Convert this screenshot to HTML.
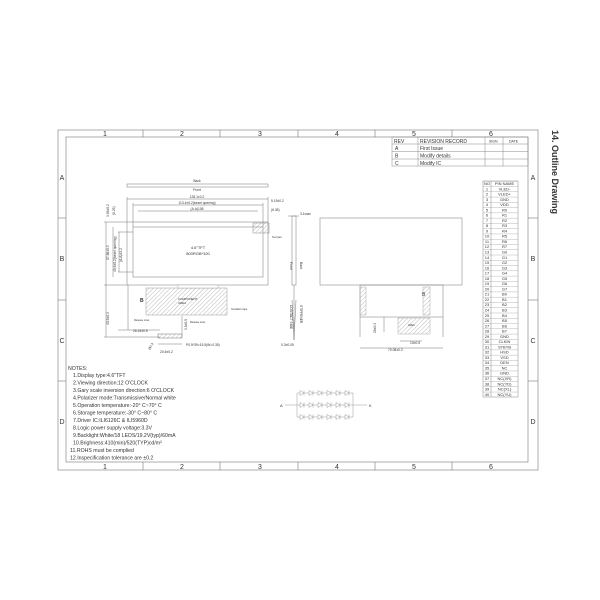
<!DOCTYPE html>
<html><head><meta charset="utf-8"><style>
body{margin:0;background:#fff}
svg{display:block}
text{font-family:"Liberation Sans",sans-serif;fill:#333}
.m{font-family:"Liberation Mono",monospace;font-size:5.2px;fill:#444}
</style></head><body>
<svg width="600" height="600" viewBox="0 0 600 600" xmlns="http://www.w3.org/2000/svg">
<defs>
<pattern id="h" width="3" height="3" patternUnits="userSpaceOnUse" patternTransform="rotate(45)"><line x1="0" y1="0" x2="0" y2="3" stroke="#aaa" stroke-width="0.8"/></pattern>
<pattern id="rows" x="483" y="181" width="35" height="5.27" patternUnits="userSpaceOnUse"><line x1="0" y1="0.2" x2="35" y2="0.2" stroke="#999" stroke-width="0.4"/></pattern>
<g id="d"><polygon points="0,-2.5 0,2.5 4,0" fill="#fff" stroke="#999" stroke-width="0.5"/><line x1="4" y1="-2.5" x2="4" y2="2.5" stroke="#999" stroke-width="0.5"/></g>
<g id="dr"><line x1="297" y1="0" x2="353" y2="0" stroke="#999" stroke-width="0.5"/><use href="#d" x="300"/><use href="#d" x="309"/><use href="#d" x="318"/><use href="#d" x="327"/><use href="#d" x="336"/><use href="#d" x="345"/></g>
</defs>
<g fill="none" stroke="#777" stroke-width="0.6">
<rect x="58" y="130" width="480" height="340"/>
<rect x="66" y="137" width="462" height="325"/>
<line x1="143" y1="130" x2="143" y2="137"/><line x1="220" y1="130" x2="220" y2="137"/><line x1="298" y1="130" x2="298" y2="137"/><line x1="375" y1="130" x2="375" y2="137"/><line x1="452" y1="130" x2="452" y2="137"/>
<line x1="143" y1="462" x2="143" y2="470"/><line x1="220" y1="462" x2="220" y2="470"/><line x1="298" y1="462" x2="298" y2="470"/><line x1="375" y1="462" x2="375" y2="470"/><line x1="452" y1="462" x2="452" y2="470"/>
<line x1="58" y1="218" x2="66" y2="218"/><line x1="58" y1="300" x2="66" y2="300"/><line x1="58" y1="381" x2="66" y2="381"/>
<line x1="528" y1="218" x2="538" y2="218"/><line x1="528" y1="300" x2="538" y2="300"/><line x1="528" y1="381" x2="538" y2="381"/>
</g>
<g font-size="7" text-anchor="middle">
<text x="105" y="136">1</text><text x="182" y="136">2</text><text x="260" y="136">3</text><text x="337" y="136">4</text><text x="414" y="136">5</text><text x="491" y="136">6</text>
<text x="105" y="469">1</text><text x="182" y="469">2</text><text x="260" y="469">3</text><text x="337" y="469">4</text><text x="414" y="469">5</text><text x="491" y="469">6</text>
<text x="62" y="180">A</text><text x="62" y="261">B</text><text x="62" y="343">C</text><text x="62" y="424">D</text>
<text x="533" y="180">A</text><text x="533" y="261">B</text><text x="533" y="343">C</text><text x="533" y="424">D</text>
</g>
<text transform="translate(552,130) rotate(90)" font-size="9" font-weight="bold" fill="#222">14. Outline Drawing</text>
<g fill="none" stroke="#888" stroke-width="0.5">
<rect x="392" y="137" width="136" height="29"/>
<line x1="392" y1="144" x2="528" y2="144"/><line x1="392" y1="151.5" x2="528" y2="151.5"/><line x1="392" y1="159" x2="528" y2="159"/>
<line x1="418" y1="137" x2="418" y2="166"/><line x1="485" y1="137" x2="485" y2="166"/><line x1="503" y1="137" x2="503" y2="166"/>
</g>
<g font-size="5">
<text x="394" y="143">REV</text><text x="420" y="143">REVISION RECORD</text><text x="489" y="142.5" font-size="3.5">SIGN</text><text x="509" y="142.5" font-size="3.5">DATE</text>
<text x="395" y="150">A</text><text x="420" y="150">First Issue</text>
<text x="395" y="157.5">B</text><text x="420" y="157.5">Modify details</text>
<text x="395" y="165">C</text><text x="420" y="165">Modify IC</text>
</g>
<!-- pin table -->
<rect x="483" y="181" width="35" height="216" fill="url(#rows)" stroke="#888" stroke-width="0.5"/>
<line x1="491" y1="181" x2="491" y2="397" stroke="#888" stroke-width="0.5"/>
<g font-size="4" text-anchor="middle">
<text x="487" y="185">NO</text><text x="504.5" y="185">PIN NAME</text>
<text x="487" y="190.3">1</text><text x="504.5" y="190.3">VLED-</text>
<text x="487" y="195.5">2</text><text x="504.5" y="195.5">VLED+</text>
<text x="487" y="200.8">3</text><text x="504.5" y="200.8">GND</text>
<text x="487" y="206.1">4</text><text x="504.5" y="206.1">VDD</text>
<text x="487" y="211.4">5</text><text x="504.5" y="211.4">R0</text>
<text x="487" y="216.6">6</text><text x="504.5" y="216.6">R1</text>
<text x="487" y="221.9">7</text><text x="504.5" y="221.9">R2</text>
<text x="487" y="227.2">8</text><text x="504.5" y="227.2">R3</text>
<text x="487" y="232.4">9</text><text x="504.5" y="232.4">R4</text>
<text x="487" y="237.7">10</text><text x="504.5" y="237.7">R5</text>
<text x="487" y="243">11</text><text x="504.5" y="243">R6</text>
<text x="487" y="248.2">12</text><text x="504.5" y="248.2">R7</text>
<text x="487" y="253.5">13</text><text x="504.5" y="253.5">G0</text>
<text x="487" y="258.8">14</text><text x="504.5" y="258.8">G1</text>
<text x="487" y="264.1">15</text><text x="504.5" y="264.1">G2</text>
<text x="487" y="269.3">16</text><text x="504.5" y="269.3">G3</text>
<text x="487" y="274.6">17</text><text x="504.5" y="274.6">G4</text>
<text x="487" y="279.9">18</text><text x="504.5" y="279.9">G5</text>
<text x="487" y="285.1">19</text><text x="504.5" y="285.1">G6</text>
<text x="487" y="290.4">20</text><text x="504.5" y="290.4">G7</text>
<text x="487" y="295.7">21</text><text x="504.5" y="295.7">B0</text>
<text x="487" y="300.9">22</text><text x="504.5" y="300.9">B1</text>
<text x="487" y="306.2">23</text><text x="504.5" y="306.2">B2</text>
<text x="487" y="311.5">24</text><text x="504.5" y="311.5">B3</text>
<text x="487" y="316.8">25</text><text x="504.5" y="316.8">B4</text>
<text x="487" y="322">26</text><text x="504.5" y="322">B5</text>
<text x="487" y="327.3">27</text><text x="504.5" y="327.3">B6</text>
<text x="487" y="332.6">28</text><text x="504.5" y="332.6">B7</text>
<text x="487" y="337.8">29</text><text x="504.5" y="337.8">GND</text>
<text x="487" y="343.1">30</text><text x="504.5" y="343.1">CLKIN</text>
<text x="487" y="348.4">31</text><text x="504.5" y="348.4">STBYB</text>
<text x="487" y="353.6">32</text><text x="504.5" y="353.6">HSD</text>
<text x="487" y="358.9">33</text><text x="504.5" y="358.9">VSD</text>
<text x="487" y="364.2">34</text><text x="504.5" y="364.2">DEN</text>
<text x="487" y="369.5">35</text><text x="504.5" y="369.5">NC</text>
<text x="487" y="374.7">36</text><text x="504.5" y="374.7">GND</text>
<text x="487" y="380">37</text><text x="504.5" y="380">NC(XR)</text>
<text x="487" y="385.3">38</text><text x="504.5" y="385.3">NC(YD)</text>
<text x="487" y="390.5">39</text><text x="504.5" y="390.5">NC(XL)</text>
<text x="487" y="395.8">40</text><text x="504.5" y="395.8">NC(YU)</text>
</g>
<!-- front view -->
<g fill="none" stroke="#777" stroke-width="0.5">
<rect x="127" y="184" width="141" height="3"/>
<rect x="127" y="222" width="141" height="63"/>
<rect x="133" y="227" width="130" height="50"/>
<line x1="127" y1="197" x2="127" y2="222"/><line x1="268" y1="197" x2="268" y2="222"/>
<line x1="127" y1="199" x2="268" y2="199"/><line x1="133" y1="205" x2="263" y2="205"/><line x1="138" y1="211" x2="258" y2="211"/>
<line x1="133" y1="203" x2="133" y2="227"/><line x1="263" y1="203" x2="263" y2="227"/>
<line x1="104" y1="222" x2="127" y2="222"/><line x1="104" y1="285" x2="127" y2="285"/>
<line x1="106" y1="222" x2="106" y2="337"/><line x1="104" y1="337" x2="160" y2="337"/>
<line x1="113" y1="227" x2="113" y2="277"/><line x1="119" y1="232" x2="119" y2="272"/>
<line x1="118" y1="232" x2="133" y2="232"/><line x1="118" y1="272" x2="133" y2="272"/>
<line x1="128" y1="285" x2="128" y2="330"/><line x1="118" y1="330" x2="160" y2="330"/>
<line x1="182" y1="316" x2="182" y2="336"/>
<line x1="158" y1="344" x2="182" y2="344"/>
</g>
<rect x="253" y="223" width="16" height="10" fill="url(#h)" stroke="#888" stroke-width="0.5"/>
<rect x="146" y="288" width="81" height="27" fill="url(#h)" stroke="#999" stroke-width="0.5"/>
<rect x="178" y="285" width="40" height="3" fill="#fff" stroke="#999" stroke-width="0.4"/>
<rect x="158" y="334" width="24" height="4" fill="url(#h)" stroke="#777" stroke-width="0.5"/>
<g font-size="3.3">
<text x="197" y="182" text-anchor="middle">Back</text><text x="197" y="191" text-anchor="middle">Front</text>
<text x="197" y="198" text-anchor="middle">128.1±0.2</text>
<text x="197" y="204" text-anchor="middle">113.4±0.2(bezel opening)</text>
<text x="197" y="210" text-anchor="middle">(A.A)108</text>
<text x="271" y="202">5.15±0.2</text><text x="271" y="211">(6.35)</text>
<text x="272" y="238" font-size="2.5">Test pad</text>
<text x="198" y="249" text-anchor="middle" font-size="4">4.6"TFT</text>
<text x="198" y="255" text-anchor="middle" font-size="4">800RGB*320</text>
<text x="178" y="300" font-size="3">COMPONENT</text><text x="178" y="304" font-size="3">AREA</text>
<text x="231" y="310" font-size="2.5">Insulation tape</text>
<text x="134" y="321" font-size="2.5">Release Liner</text><text x="190" y="323" font-size="2.5">Release Liner</text>
<text x="133" y="332">26.15±0.5</text>
<text x="186" y="346">P0.5*39=19.5(W=0.35)</text>
<text x="160" y="353">20.6±0.2</text>
<text x="140" y="302" font-size="5" font-weight="bold">B</text>
<text transform="translate(109,260) rotate(-90)">57.86±0.3</text>
<text transform="translate(116,272) rotate(-90)">45.6±0.2(bezel opening)</text>
<text transform="translate(122,262) rotate(-90)">(A.A)43.2</text>
<text transform="translate(109,217) rotate(-90)">3.95±0.2</text>
<text transform="translate(115,215) rotate(-90)">(8.25)</text>
<text transform="translate(109,325) rotate(-90)">40.5±0.3</text>
<text transform="translate(187,330) rotate(-90)">3.5±0.5</text>
<text transform="translate(150,350) rotate(-60)">Ø0.3</text>
</g>
<!-- side view -->
<g fill="none" stroke="#777" stroke-width="0.5">
<rect x="292" y="216" width="4" height="69"/>
<line x1="294" y1="285" x2="294" y2="340"/><line x1="292" y1="300" x2="294" y2="340"/><line x1="296" y1="300" x2="294" y2="340"/>
<line x1="288" y1="216" x2="299" y2="216"/>
</g>
<g font-size="3.3">
<text x="300" y="215">3.1max</text><text x="281" y="346">0.3±0.05</text>
<text transform="translate(290,262) rotate(90)">Front</text><text transform="translate(300,262) rotate(90)">Back</text>
<text transform="translate(290,305) rotate(90)">CONTACT SIDE</text><text transform="translate(300,305) rotate(90)">STIFFENER</text>
</g>
<!-- back view -->
<g fill="none" stroke="#777" stroke-width="0.5">
<rect x="320" y="218" width="142" height="67"/>
<rect x="360" y="285" width="83" height="32"/>
<line x1="360" y1="317" x2="360" y2="337"/><line x1="443" y1="317" x2="443" y2="337"/>
<line x1="360" y1="348" x2="443" y2="348"/>
<line x1="400" y1="341" x2="422" y2="341"/>
<line x1="384" y1="317" x2="384" y2="332"/>
</g>
<rect x="360" y="287" width="6" height="28" fill="url(#h)" stroke="#999" stroke-width="0.4"/>
<rect x="423" y="287" width="7" height="28" fill="url(#h)" stroke="#999" stroke-width="0.4"/>
<rect x="398" y="318" width="32" height="16" fill="url(#h)" stroke="#999" stroke-width="0.4"/>
<g font-size="3.3"><text x="422" y="296" font-size="5">B</text><text x="408" y="326" font-size="2.5">AREA</text>
<text x="388" y="351">70.08±0.3</text><text x="410" y="344">10±0.5</text>
<text transform="translate(376,333) rotate(-90)">28±0.3</text></g>
<!-- notes -->
<g class="m">
<text x="68" y="370">NOTES:</text>
<text x="73" y="377">1.Display type:4.6"TFT</text>
<text x="73" y="384.5">2.Viewing direction:12 O'CLOCK</text>
<text x="73" y="392">3.Gary scale inversion direction:6 O'CLOCK</text>
<text x="73" y="399.5">4.Polarizer mode:Transmissive/Normal white</text>
<text x="73" y="407">5.Operation temperature:-20° C~70° C</text>
<text x="73" y="414.5">6.Storage temperature:-30° C~80° C</text>
<text x="73" y="422">7.Driver IC:ILI6126C &amp; ILI5960D</text>
<text x="73" y="429.5">8.Logic power supply voltage:3.3V</text>
<text x="73" y="437">9.Backlight:White/18 LEDS/19.2V(typ)/60mA</text>
<text x="73" y="444.5">10.Brighness:410(min)/520(TYP)cd/m²</text>
<text x="70" y="452">11.ROHS must be complied</text>
<text x="70" y="459.5">12.Inspecification tolerance are ±0.2</text>
</g>
<!-- LED -->
<g fill="none" stroke="#999" stroke-width="0.5">
<line x1="285" y1="405" x2="297" y2="405"/><line x1="353" y1="405" x2="367" y2="405"/>
<line x1="297" y1="393" x2="297" y2="417"/><line x1="353" y1="393" x2="353" y2="417"/>
</g>
<use href="#dr" y="393"/><use href="#dr" y="405"/><use href="#dr" y="417"/>
<text x="280" y="407" font-size="4">A</text><text x="369" y="407" font-size="4">K</text>
</svg>
</body></html>
